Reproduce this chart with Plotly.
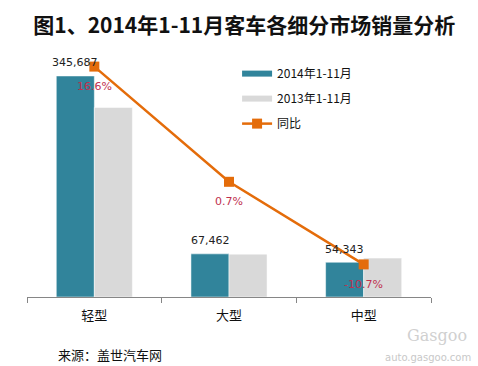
import plotly.graph_objects as go

categories = ["轻型", "大型", "中型"]
sales_2014 = [345687, 67462, 54343]
sales_2013 = [296473, 66993, 60854]
yoy_pct = [16.6, 0.7, -10.7]
value_labels = ["345,687", "67,462", "54,343"]
pct_labels = ["16.6%", "0.7%", "-10.7%"]

teal = "#31849B"
grey = "#D9D9D9"
orange = "#E46C0A"
red_txt = "#C0304F"
font_cjk = "Noto Sans CJK SC"

fig = go.Figure()

fig.add_trace(go.Bar(
    x=categories, y=sales_2014, name="2014年1-11月",
    marker=dict(color=teal, line=dict(width=0.5, color="white")),
    showlegend=False,
))
fig.add_trace(go.Bar(
    x=categories, y=sales_2013, name="2013年1-11月",
    marker=dict(color=grey, line=dict(width=0.5, color="white")),
    showlegend=False,
))
fig.add_trace(go.Scatter(
    x=categories, y=yoy_pct, name="同比", yaxis="y2",
    mode="lines+markers",
    line=dict(color=orange, width=2.5),
    marker=dict(symbol="square", size=10, color=orange),
    cliponaxis=False, showlegend=False,
))

# legend-only entries with wide swatches
fig.add_trace(go.Scatter(x=[None], y=[None], mode="lines", name="2014年1-11月",
                         legendgroup="a", line=dict(color=teal, width=6)))
fig.add_trace(go.Scatter(x=[None], y=[None], mode="lines", name="2013年1-11月",
                         legendgroup="b", line=dict(color=grey, width=6)))
fig.add_trace(go.Scatter(x=[None], y=[None], mode="lines+markers", name="同比",
                         legendgroup="c", line=dict(color=orange, width=2.5),
                         marker=dict(symbol="square", size=10, color=orange)))

annotations = []
# value labels above 2014 bars (offset left to the 2014 bar of each group)
for cat, v, lab in zip(categories, sales_2014, value_labels):
    annotations.append(dict(x=cat, y=v, xref="x", yref="y", text=lab,
                            showarrow=False, xshift=-19, yshift=13,
                            font=dict(size=11, color="#222222", family="DejaVu Sans"),
                            xanchor="center", yanchor="middle"))
# percentage labels below markers
for cat, p, lab in zip(categories, yoy_pct, pct_labels):
    annotations.append(dict(x=cat, y=p, xref="x", yref="y2", text=lab,
                            showarrow=False, yshift=-20,
                            font=dict(size=11, color=red_txt, family="DejaVu Sans"),
                            xanchor="center", yanchor="middle"))

annotations += [
    dict(text="来源：盖世汽车网", xref="paper", yref="paper", x=0.072, y=-0.236,
         xanchor="left", yanchor="middle", showarrow=False,
         font=dict(family=font_cjk, size=13, color="#111111")),
    dict(text="Gasgoo", xref="paper", yref="paper", x=1.095, y=-0.16,
         xanchor="right", yanchor="middle", showarrow=False,
         font=dict(family="DejaVu Serif", size=16, color="#D0D0D0")),
    dict(text="auto.gasgoo.com", xref="paper", yref="paper", x=1.104, y=-0.248,
         xanchor="right", yanchor="middle", showarrow=False,
         font=dict(family="DejaVu Sans", size=10, color="#C8C8C8")),
]

fig.update_layout(
    width=478, height=366,
    margin=dict(l=27, r=47, t=55, b=69, autoexpand=False),
    paper_bgcolor="white", plot_bgcolor="white",
    barmode="group", bargap=0.435, bargroupgap=0,
    title=dict(text="<b>图1、2014年1-11月客车各细分市场销量分析</b>",
               x=0.511, xanchor="center", y=0.93, yanchor="middle",
               font=dict(family=font_cjk, size=21, color="#111111")),
    xaxis=dict(showgrid=False, showline=True, linecolor="#868686", linewidth=1,
               ticks="outside", tickson="boundaries", ticklen=5, tickcolor="#868686",
               ticklabelstandoff=6,
               tickfont=dict(family=font_cjk, size=13, color="#111111")),
    yaxis=dict(range=[0, 378500], visible=False, showgrid=False),
    yaxis2=dict(range=[-15.2, 18.2], overlaying="y", visible=False, showgrid=False),
    legend=dict(x=0.52, y=0.983, xanchor="left", yanchor="top",
                font=dict(family=font_cjk, size=12, color="#111111"),
                tracegroupgap=6, itemwidth=30, bgcolor="rgba(0,0,0,0)"),
    annotations=annotations,
)

fig.write_html("out.html", config={"displayModeBar": False},
               post_script="document.body.style.margin='0';")
